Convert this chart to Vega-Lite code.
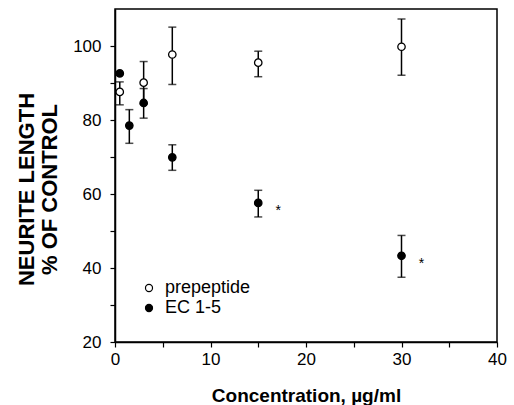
{
  "$schema": "https://vega.github.io/schema/vega-lite/v6.json",
  "autosize": {"type": "none"},
  "padding": {"left": 115, "top": 9, "right": 17, "bottom": 63},
  "width": 382,
  "height": 333,
  "background": "white",
  "config": {
    "font": "Liberation Sans",
    "view": {"stroke": "black", "strokeWidth": 1.5},
    "axis": {
      "grid": false,
      "domainColor": "black",
      "domainWidth": 1.5,
      "tickColor": "black",
      "tickWidth": 1.2,
      "tickSize": 5,
      "labelColor": "black",
      "labelFont": "Liberation Sans",
      "labelFontSize": 17,
      "titleColor": "black",
      "titleFont": "Liberation Sans",
      "titleFontWeight": "bold"
    }
  },
  "data": {
    "values": [
      {"series": "prepeptide", "conc": 0.5, "mean": 87.6, "lo": 84.1, "hi": 90.3, "sig": ""},
      {"series": "prepeptide", "conc": 3, "mean": 90.1, "lo": 84.4, "hi": 95.8, "sig": ""},
      {"series": "prepeptide", "conc": 6, "mean": 97.7, "lo": 89.6, "hi": 105.1, "sig": ""},
      {"series": "prepeptide", "conc": 15, "mean": 95.5, "lo": 91.7, "hi": 98.6, "sig": ""},
      {"series": "prepeptide", "conc": 30, "mean": 99.8, "lo": 92.1, "hi": 107.3, "sig": ""},
      {"series": "EC 1-5", "conc": 0.5, "mean": 92.6, "lo": 92.6, "hi": 92.6, "sig": ""},
      {"series": "EC 1-5", "conc": 1.5, "mean": 78.5, "lo": 73.7, "hi": 82.8, "sig": ""},
      {"series": "EC 1-5", "conc": 3, "mean": 84.6, "lo": 80.5, "hi": 88.5, "sig": ""},
      {"series": "EC 1-5", "conc": 6, "mean": 69.9, "lo": 66.4, "hi": 73.3, "sig": ""},
      {"series": "EC 1-5", "conc": 15, "mean": 57.6, "lo": 53.8, "hi": 61.0, "sig": "*"},
      {"series": "EC 1-5", "conc": 30, "mean": 43.3, "lo": 37.5, "hi": 48.8, "sig": "*"}
    ]
  },
  "layer": [
    {
      "mark": {"type": "rule", "color": "black", "strokeWidth": 1.5},
      "encoding": {
        "x": {"field": "conc", "type": "quantitative"},
        "y": {"field": "lo", "type": "quantitative"},
        "y2": {"field": "hi"}
      }
    },
    {
      "mark": {"type": "tick", "orient": "horizontal", "color": "black", "size": 8, "thickness": 1.5},
      "encoding": {
        "x": {"field": "conc", "type": "quantitative"},
        "y": {"field": "lo", "type": "quantitative"}
      }
    },
    {
      "mark": {"type": "tick", "orient": "horizontal", "color": "black", "size": 8, "thickness": 1.5},
      "encoding": {
        "x": {"field": "conc", "type": "quantitative"},
        "y": {"field": "hi", "type": "quantitative"}
      }
    },
    {
      "mark": {"type": "point", "shape": "circle", "filled": false, "stroke": "black", "strokeWidth": 1.3, "size": 55, "opacity": 1},
      "encoding": {
        "x": {
          "field": "conc", "type": "quantitative",
          "scale": {"domain": [0, 40], "nice": false, "zero": false},
          "axis": {
            "title": "Concentration, µg/ml",
            "titleFontSize": 19,
            "titlePadding": 19,
            "values": [0, 5, 10, 15, 20, 25, 30, 35, 40],
            "labelExpr": "datum.value % 10 === 0 ? datum.label : ''",
            "labelPadding": 4,
            "labelFlush": false
          }
        },
        "y": {
          "field": "mean", "type": "quantitative",
          "scale": {"domain": [20, 110], "nice": false, "zero": false},
          "axis": {
            "title": ["NEURITE LENGTH", "% OF CONTROL"],
            "titleFontSize": 22,
            "titleLineHeight": 23,
            "titlePadding": 11,
            "titleY": 180,
            "values": [20, 30, 40, 50, 60, 70, 80, 90, 100],
            "labelExpr": "datum.value % 20 === 0 ? datum.label : ''",
            "labelPadding": 9,
            "labelFlush": false
          }
        },
        "fill": {
          "field": "series", "type": "nominal",
          "scale": {"domain": ["prepeptide", "EC 1-5"], "range": ["white", "black"]},
          "legend": {
            "title": null,
            "orient": "none",
            "legendX": 25,
            "legendY": 270,
            "padding": 0,
            "symbolType": "circle",
            "symbolSize": 50,
            "symbolStrokeColor": "black",
            "symbolStrokeWidth": 1.2,
            "labelFontSize": 18,
            "labelColor": "black",
            "labelFont": "Liberation Sans",
            "labelOffset": 7,
            "rowPadding": 2
          }
        }
      }
    },
    {
      "mark": {"type": "text", "fontSize": 14, "color": "black", "baseline": "alphabetic", "dx": 20, "dy": 12},
      "encoding": {
        "x": {"field": "conc", "type": "quantitative"},
        "y": {"field": "mean", "type": "quantitative"},
        "text": {"field": "sig"}
      }
    }
  ]
}
